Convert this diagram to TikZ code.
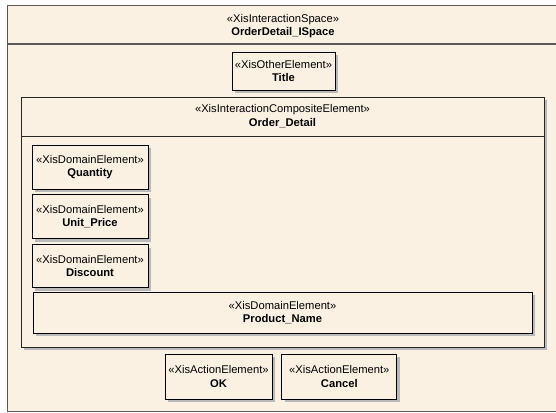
\documentclass[tikz,border=0pt]{standalone}
\usepackage{fontspec}
\setmainfont{Liberation Sans}
\usepackage{tikz}
\usetikzlibrary{positioning,shadows}
\definecolor{umlfill}{RGB}{251,241,227}
\definecolor{umlborder}{RGB}{90,90,90}
\definecolor{umlshadow}{RGB}{185,185,185}
\tikzset{
  umltext/.style = {align=center, text centered,
    font=\fontsize{11.2}{13.4}\selectfont},
  ispace_n/.style = {rectangle, draw=umlborder, line width=1.3pt,
    fill=umlfill, inner sep=0pt},% espace d'interaction
  compo_n/.style = {rectangle, draw=black!85, line width=0.9pt, fill=umlfill,
    inner sep=0pt, drop shadow={shadow xshift=3pt, shadow yshift=-3pt,
    fill=umlshadow, opacity=1}},% element composite
  elem_n/.style = {umltext, rectangle, draw=black, line width=0.8pt,
    fill=umlfill, inner sep=0pt, drop shadow={shadow xshift=3pt,
    shadow yshift=-3pt, fill=umlshadow, opacity=1}},% element simple
}

\begin{document}
\begin{tikzpicture}[x=1pt,y=-1pt]
\useasboundingbox (0,0) rectangle (556,412);
% espace d'interaction
\node [ispace_n, minimum width=553pt, minimum height=406pt, anchor=north west]
    (ispace) at (7,5) {};
\draw [umlborder, line width=1.1pt] (ispace.west |- 0,44) -- (ispace.east |- 0,44);
\node [umltext] (ispacehead) at (283,26)
    {«XisInteractionSpace»\\\textbf{OrderDetail\_ISpace}};
\node [elem_n, minimum width=103pt, minimum height=38pt] (title) at (283.5,71)
    {«XisOtherElement»\\\textbf{Title}};
% element composite
\node [compo_n, minimum width=523pt, minimum height=250pt, anchor=north west]
    (detail) at (21,97) {};
\draw [black!85, line width=0.9pt] (detail.west |- 0,136) -- (detail.east |- 0,136);
\node [umltext] (detailhead) at (282.5,116)
    {«XisInteractionCompositeElement»\\\textbf{Order\_Detail}};
\node [elem_n, minimum width=116pt, minimum height=44pt] (quantity) at (90,167)
    {«XisDomainElement»\\\textbf{Quantity}};
\node [elem_n, minimum width=116pt, minimum height=44pt, below=5pt of quantity]
    (unitprice) {«XisDomainElement»\\\textbf{Unit\_Price}};
\node [elem_n, minimum width=116pt, minimum height=43pt, below=5pt of unitprice]
    (discount) {«XisDomainElement»\\\textbf{Discount}};
\node [elem_n, minimum width=499pt, minimum height=41pt] (productname) at (282.5,312.5)
    {«XisDomainElement»\\\textbf{Product\_Name}};
% actions
\node [elem_n, minimum width=107pt, minimum height=45pt] (ok) at (218.5,376.5)
    {«XisActionElement»\\\textbf{OK}};
\node [elem_n, minimum width=115pt, minimum height=45pt, right=9pt of ok]
    (cancel) {«XisActionElement»\\\textbf{Cancel}};
\end{tikzpicture}
\end{document}
